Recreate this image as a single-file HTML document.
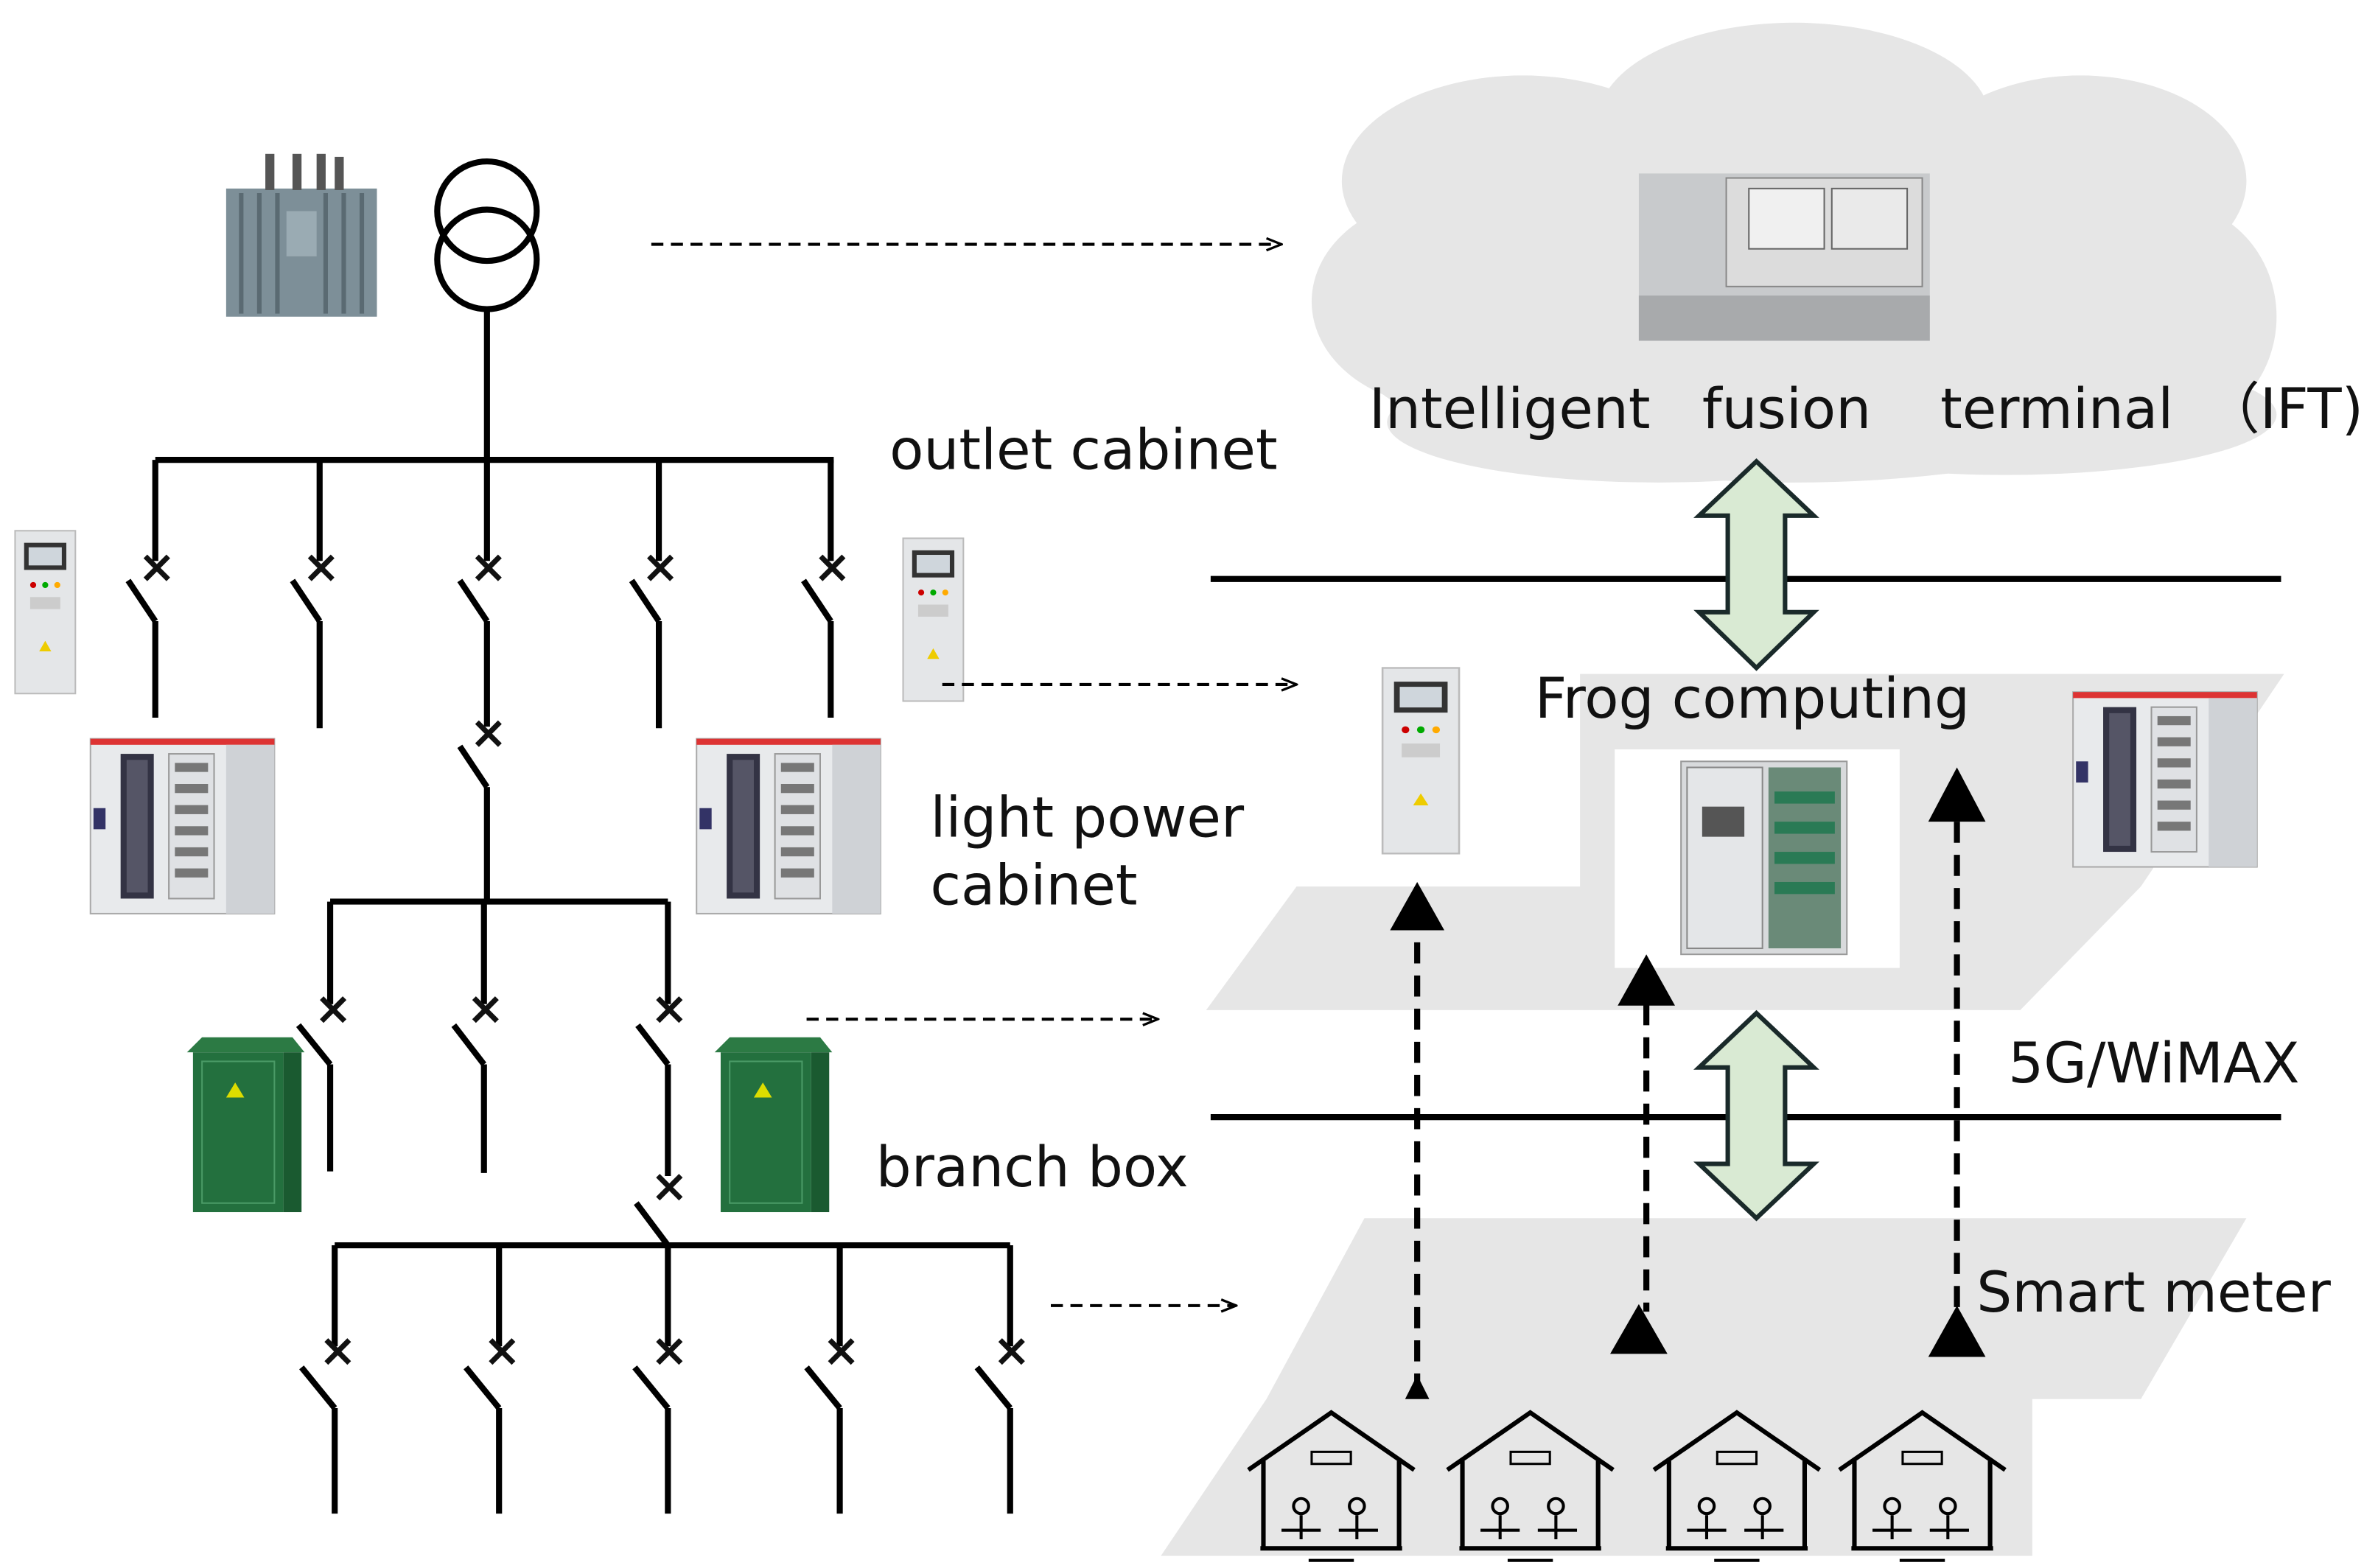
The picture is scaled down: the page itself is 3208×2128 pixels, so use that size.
<!DOCTYPE html>
<html><head><meta charset="utf-8"><style>
html,body{margin:0;padding:0;background:#fff}
svg{display:block}
text{font-family:"DejaVu Sans","Liberation Sans",sans-serif;fill:#111}
</style></head><body>
<svg width="3208" height="2128" viewBox="0 0 1568 1040" xmlns="http://www.w3.org/2000/svg">
<defs>
<marker id="oa" markerWidth="12" markerHeight="10" refX="11" refY="5" orient="auto" markerUnits="userSpaceOnUse"><path d="M1,1 L11,5 L1,9" fill="none" stroke="#000" stroke-width="1.6"/></marker>
<g id="cab">
<rect x="0" y="0" width="40" height="108" fill="#e4e6e8" stroke="#bbb"/>
<rect x="6" y="8" width="28" height="18" fill="#333"/><rect x="9" y="11" width="22" height="12" fill="#cfd6dc"/>
<circle cx="12" cy="36" r="2" fill="#c00"/><circle cx="20" cy="36" r="2" fill="#0a0"/><circle cx="28" cy="36" r="2" fill="#fa0"/>
<rect x="10" y="44" width="20" height="8" fill="#ccc"/><path d="M16,80 l4,-7 l4,7z" fill="#ec0"/>
</g>
<g id="swb">
<rect x="0" y="0" width="122" height="116" fill="#e8eaec" stroke="#aaa"/>
<rect x="0" y="0" width="122" height="4" fill="#d33"/>
<rect x="20" y="10" width="22" height="96" fill="#334"/><rect x="24" y="14" width="14" height="88" fill="#556" />
<rect x="52" y="10" width="30" height="96" fill="#dfe1e4" stroke="#999"/>
<g fill="#777"><rect x="56" y="16" width="22" height="6"/><rect x="56" y="30" width="22" height="6"/><rect x="56" y="44" width="22" height="6"/><rect x="56" y="58" width="22" height="6"/><rect x="56" y="72" width="22" height="6"/><rect x="56" y="86" width="22" height="6"/></g>
<rect x="90" y="4" width="32" height="112" fill="#cfd2d6"/>
<rect x="2" y="46" width="8" height="14" fill="#336"/>
</g>
<g id="gbox">
<path d="M0,10 L10,0 L70,0 L78,10z" fill="#2c7a44"/>
<rect x="4" y="10" width="60" height="106" fill="#23703e"/>
<rect x="64" y="10" width="12" height="106" fill="#1a5a30"/>
<rect x="10" y="16" width="48" height="94" fill="none" stroke="#4a9a66"/>
<path d="M26,40 l6,-10 l6,10z" fill="#dd0"/>
</g>
<g id="house" fill="none" stroke="#000" stroke-width="3">
<path d="M0,40 L55,2 L110,40"/><path d="M10,34 L10,92 M100,34 L100,92 M8,92 L102,92"/>
<rect x="42" y="28" width="26" height="8" stroke-width="1.5"/>
<circle cx="35" cy="64" r="5" stroke-width="2"/><circle cx="72" cy="64" r="5" stroke-width="2"/>
<path d="M22,80 L48,80 M60,80 L86,80 M35,70 L35,86 M72,70 L72,86 M40,100 L70,100" stroke-width="2"/>
</g>
</defs>

<!-- cloud -->
<g fill="#e6e6e6">
<ellipse cx="1190" cy="80" rx="130" ry="65"/><ellipse cx="1380" cy="120" rx="110" ry="70"/>
<ellipse cx="1010" cy="120" rx="120" ry="70"/><ellipse cx="960" cy="200" rx="90" ry="70"/>
<ellipse cx="1440" cy="210" rx="70" ry="75"/><ellipse cx="1190" cy="220" rx="300" ry="100"/>
<ellipse cx="1100" cy="280" rx="180" ry="40"/><ellipse cx="1330" cy="275" rx="180" ry="40"/>
</g>
<!-- IFT -->
<rect x="1087" y="115" width="193" height="111" fill="#c8cacc"/>
<rect x="1145" y="118" width="130" height="72" fill="#dcdcdc" stroke="#888"/>
<rect x="1160" y="125" width="50" height="40" fill="#f0f0f0" stroke="#666"/>
<rect x="1215" y="125" width="50" height="40" fill="#eaeaea" stroke="#666"/>
<rect x="1087" y="196" width="193" height="30" fill="#a8aaac"/>
<text x="908" y="284" font-size="37">Intelligent</text>
<text x="1129" y="284" font-size="37">fusion</text>
<text x="1287" y="284" font-size="37">terminal</text>
<text x="1462" y="284" font-size="37">（IFT)</text>

<!-- planes -->
<path d="M800,670 L860,588 L1048,588 L1048,447 L1515,447 L1420,588 L1340,670z" fill="#e6e6e6"/>
<path d="M770,1032 L840,928 L905,808 L1490,808 L1420,928 L1348,928 L1348,1032z" fill="#e6e6e6"/>
<rect x="1071" y="497" width="189" height="145" fill="#fff"/>

<!-- lines -->
<line x1="803" y1="384" x2="1513" y2="384" stroke="#000" stroke-width="4"/>
<line x1="803" y1="741" x2="1513" y2="741" stroke="#000" stroke-width="4"/>
<!-- double arrows -->
<path d="M1165,306 L1203,342 L1184,342 L1184,406 L1203,406 L1165,443 L1127,406 L1146,406 L1146,342 L1127,342z" fill="#d9ead3" stroke="#1a2a2a" stroke-width="3"/>
<path d="M1165,672 L1203,708 L1184,708 L1184,772 L1203,772 L1165,808 L1127,772 L1146,772 L1146,708 L1127,708z" fill="#d9ead3" stroke="#1a2a2a" stroke-width="3"/>

<text x="1018" y="476" font-size="37">Frog computing</text>
<text x="1332" y="718" font-size="37">5G/WiMAX</text>
<text x="1311" y="870" font-size="37">Smart meter</text>

<!-- right equipment -->
<use href="#cab" x="917" y="443" transform="translate(917,443) scale(1.27,1.14) translate(-917,-443)"/>
<g transform="translate(1115,505)">
<rect x="0" y="0" width="110" height="128" fill="#d8dadc" stroke="#999"/>
<rect x="4" y="4" width="50" height="120" fill="#e4e6e8" stroke="#888"/>
<rect x="58" y="4" width="48" height="120" fill="#6a8a78"/>
<g fill="#2a7a55"><rect x="62" y="20" width="40" height="8"/><rect x="62" y="40" width="40" height="8"/><rect x="62" y="60" width="40" height="8"/><rect x="62" y="80" width="40" height="8"/></g>
<rect x="14" y="30" width="28" height="20" fill="#555"/>
</g>
<use href="#swb" x="1375" y="459"/>

<!-- vertical dashed arrows -->
<g stroke="#000" stroke-width="4" stroke-dasharray="14,8">
<line x1="940" y1="925" x2="940" y2="615"/>
<line x1="1092" y1="666" x2="1092" y2="870"/>
<line x1="1298" y1="545" x2="1298" y2="868"/>
</g>
<g fill="#000">
<path d="M940,585 L958,617 L922,617z"/>
<path d="M1092,633 L1111,667 L1073,667z"/>
<path d="M1087,865 L1106,898 L1068,898z"/>
<path d="M1298,509 L1317,545 L1279,545z"/>
<path d="M1298,866 L1317,900 L1279,900z"/>
<path d="M940,912 L948,928 L932,928z"/>
</g>

<!-- houses -->
<use href="#house" x="828" y="935"/>
<use href="#house" x="960" y="935"/>
<use href="#house" x="1097" y="935"/>
<use href="#house" x="1220" y="935"/>

<!-- left schematic -->
<g stroke="#000" stroke-width="4" fill="none">
<circle cx="323" cy="140" r="33"/><circle cx="323" cy="172" r="33"/>
<line x1="323" y1="205" x2="323" y2="305"/>
<line x1="103" y1="305" x2="553" y2="305"/>
<!-- row 1 -->
<g id="sw1">
<line x1="103" y1="305" x2="103" y2="372"/>
<line x1="85" y1="385" x2="103" y2="412"/>
<line x1="103" y1="412" x2="103" y2="476"/>
</g>
<line x1="212" y1="305" x2="212" y2="372"/><line x1="194" y1="385" x2="212" y2="412"/><line x1="212" y1="412" x2="212" y2="483"/>
<line x1="323" y1="305" x2="323" y2="372"/><line x1="305" y1="385" x2="323" y2="412"/><line x1="323" y1="412" x2="323" y2="482"/>
<line x1="437" y1="305" x2="437" y2="372"/><line x1="419" y1="385" x2="437" y2="412"/><line x1="437" y1="412" x2="437" y2="483"/>
<line x1="551" y1="305" x2="551" y2="372"/><line x1="533" y1="385" x2="551" y2="412"/><line x1="551" y1="412" x2="551" y2="476"/>
<line x1="305" y1="495" x2="323" y2="522"/><line x1="323" y1="522" x2="323" y2="598"/>
<line x1="219" y1="598" x2="443" y2="598"/>
<!-- row 2 -->
<line x1="219" y1="598" x2="219" y2="666"/><line x1="198" y1="680" x2="219" y2="706"/><line x1="219" y1="706" x2="219" y2="777"/>
<line x1="321" y1="598" x2="321" y2="666"/><line x1="301" y1="680" x2="321" y2="706"/><line x1="321" y1="706" x2="321" y2="778"/>
<line x1="443" y1="598" x2="443" y2="666"/><line x1="423" y1="680" x2="443" y2="706"/><line x1="443" y1="706" x2="443" y2="780"/>
<line x1="422" y1="798" x2="443" y2="826"/>
<line x1="222" y1="826" x2="670" y2="826"/>
<!-- row 3 -->
<line x1="222" y1="826" x2="222" y2="893"/><line x1="200" y1="907" x2="222" y2="934"/><line x1="222" y1="934" x2="222" y2="1004"/>
<line x1="331" y1="826" x2="331" y2="893"/><line x1="309" y1="907" x2="331" y2="934"/><line x1="331" y1="934" x2="331" y2="1004"/>
<line x1="443" y1="826" x2="443" y2="893"/><line x1="421" y1="907" x2="443" y2="934"/><line x1="443" y1="934" x2="443" y2="1004"/>
<line x1="557" y1="826" x2="557" y2="893"/><line x1="535" y1="907" x2="557" y2="934"/><line x1="557" y1="934" x2="557" y2="1004"/>
<line x1="670" y1="826" x2="670" y2="893"/><line x1="648" y1="907" x2="670" y2="934"/><line x1="670" y1="934" x2="670" y2="1004"/>
</g>
<g font-size="30" text-anchor="middle" font-weight="bold">
<text x="104" y="386">×</text><text x="213" y="386">×</text><text x="324" y="386">×</text><text x="438" y="386">×</text><text x="552" y="386">×</text>
<text x="324" y="496">×</text>
<text x="221" y="679">×</text><text x="322" y="679">×</text><text x="444" y="679">×</text>
<text x="444" y="797">×</text>
<text x="224" y="906">×</text><text x="333" y="906">×</text><text x="444" y="906">×</text><text x="558" y="906">×</text><text x="671" y="906">×</text>
</g>

<!-- left equipment -->
<g transform="translate(150,100)">
<rect x="0" y="25" width="100" height="85" fill="#7d8f98"/>
<g stroke="#5a6a72" stroke-width="3"><line x1="10" y1="28" x2="10" y2="108"/><line x1="22" y1="28" x2="22" y2="108"/><line x1="34" y1="28" x2="34" y2="108"/><line x1="66" y1="28" x2="66" y2="108"/><line x1="78" y1="28" x2="78" y2="108"/><line x1="90" y1="28" x2="90" y2="108"/></g>
<rect x="40" y="40" width="20" height="30" fill="#9aabb3"/>
<g fill="#555"><rect x="26" y="2" width="6" height="24"/><rect x="44" y="2" width="6" height="24"/><rect x="60" y="2" width="6" height="24"/><rect x="72" y="4" width="6" height="22"/></g>
</g>
<use href="#cab" x="10" y="352"/>
<use href="#cab" x="599" y="357"/>
<use href="#swb" x="60" y="490"/>
<use href="#swb" x="462" y="490"/>
<use href="#gbox" x="124" y="688"/>
<use href="#gbox" x="474" y="688"/>

<text x="590" y="311" font-size="37">outlet cabinet</text>
<text x="617" y="555" font-size="37">light power</text>
<text x="617" y="600" font-size="37">cabinet</text>
<text x="581" y="787" font-size="37">branch box</text>

<!-- horizontal dashed arrows -->
<g stroke="#000" stroke-width="2" stroke-dasharray="8,5" marker-end="url(#oa)">
<line x1="432" y1="162" x2="850" y2="162"/>
<line x1="625" y1="454" x2="860" y2="454"/>
<line x1="535" y1="676" x2="768" y2="676"/>
<line x1="697" y1="866" x2="820" y2="866"/>
</g>
</svg>
</body></html>
